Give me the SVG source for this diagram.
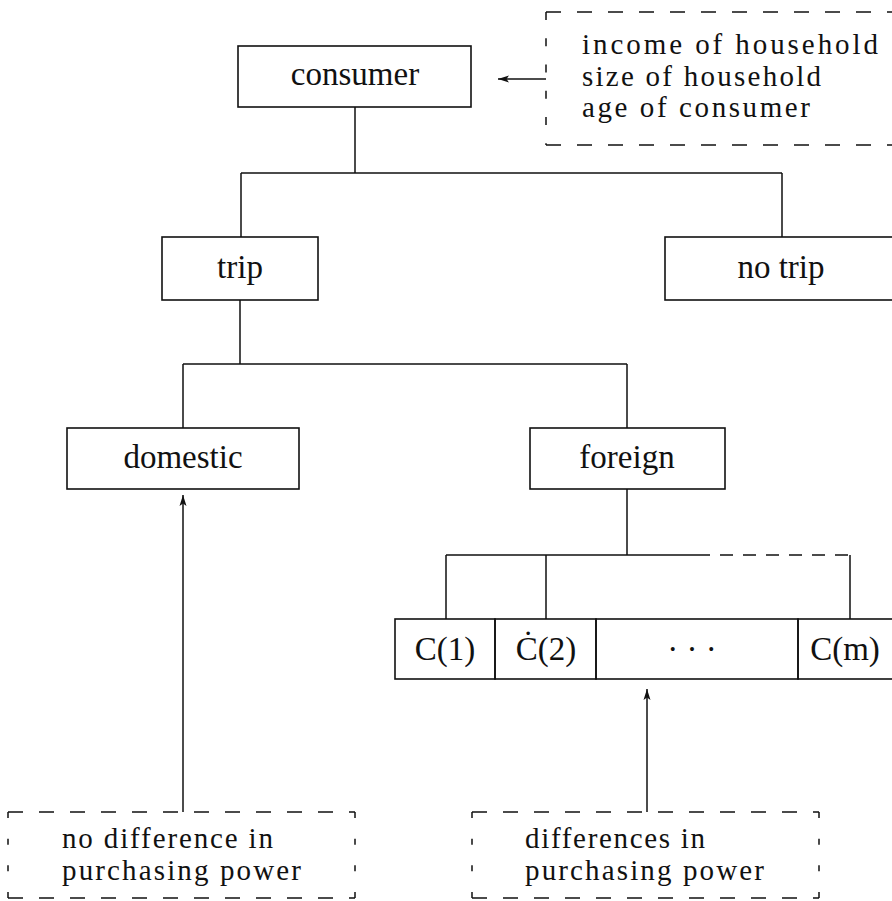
<svg xmlns="http://www.w3.org/2000/svg" width="892" height="901" viewBox="0 0 892 901">
<style>
.box{fill:none;stroke:#111;stroke-width:1.6}
.ln{fill:none;stroke:#111;stroke-width:1.5}
.dh{fill:none;stroke:#111;stroke-width:1.5;stroke-dasharray:15 16}
.dv{fill:none;stroke:#111;stroke-width:1.5}
.t{font-family:"Liberation Serif","DejaVu Serif",serif;font-size:33px;fill:#111}
.m{font-family:"Liberation Serif","DejaVu Serif",serif;font-size:29px;fill:#111}
.c{text-anchor:middle}
</style>
<defs>
<marker id="ah" markerWidth="12" markerHeight="8" refX="11" refY="4" orient="auto" markerUnits="userSpaceOnUse">
<path d="M0,0.5 L11,4 L0,7.5 L2.5,4 z" fill="#111"/>
</marker>
</defs>
<rect width="892" height="901" fill="#fff"/>

<g id="connectors">
<path class="ln" d="M355,107 V173 M241,173 H782 M241,173 V237 M782,173 V237"/>
<path class="ln" d="M240,300 V364 M183,364 H627 M183,364 V428 M627,364 V428"/>
<path class="ln" d="M627,489 V555 M446,555 H697 M446,555 V619 M546,555 V619 M850,555 V619"/>
<path class="ln" d="M697,555 H850" stroke-dasharray="13 10"/>
<path class="ln" d="M546,79 H498" marker-end="url(#ah)"/>
<path class="ln" d="M183,812 V495" marker-end="url(#ah)"/>
<path class="ln" d="M647,812 V689" marker-end="url(#ah)"/>
</g>

<g id="attributes">
<path class="dh" d="M546,12 H900 M546,145 H900"/>
<path class="dv" d="M546,12 V145" stroke-dasharray="8 18.25"/>
<text class="m" x="582" y="54" textLength="296" lengthAdjust="spacing">income of household</text>
<text class="m" x="582" y="86" textLength="239" lengthAdjust="spacing">size of household</text>
<text class="m" x="582" y="117" textLength="228" lengthAdjust="spacing">age of consumer</text>
</g>

<g id="consumer">
<rect class="box" x="238" y="46" width="233" height="61"/>
<text class="t c" x="355" y="85">consumer</text>
</g>

<g id="trip">
<rect class="box" x="162" y="237" width="156" height="63"/>
<text class="t c" x="240" y="278">trip</text>
</g>

<g id="no-trip">
<rect class="box" x="665" y="237" width="240" height="63"/>
<text class="t c" x="781" y="278">no trip</text>
</g>

<g id="domestic">
<rect class="box" x="67" y="428" width="232" height="61"/>
<text class="t c" x="183" y="468">domestic</text>
</g>

<g id="foreign">
<rect class="box" x="530" y="428" width="195" height="61"/>
<text class="t c" x="627" y="468">foreign</text>
</g>

<g id="c1">
<rect class="box" x="395" y="619" width="100" height="60"/>
<text class="t c" x="445" y="660">C(1)</text>
</g>
<g id="c2">
<rect class="box" x="495" y="619" width="101" height="60"/>
<text class="t c" x="546" y="660">Ċ(2)</text>
</g>
<g id="cdots">
<rect class="box" x="596" y="619" width="202" height="60"/>
<text class="t c" x="692" y="660">· · ·</text>
</g>
<g id="cm">
<rect class="box" x="798" y="619" width="104" height="60"/>
<text class="t c" x="845" y="660">C(m)</text>
</g>

<g id="no-difference">
<path class="dh" d="M8,812 H355 M8,898 H355"/>
<path class="dv" d="M8,812 V898 M355,812 V898" stroke-dasharray="6 20.67"/>
<text class="m" x="62" y="848" textLength="211" lengthAdjust="spacing">no difference in</text>
<text class="m" x="62" y="880" textLength="239" lengthAdjust="spacing">purchasing power</text>
</g>

<g id="differences">
<path class="dh" d="M472,812 H819 M472,898 H819"/>
<path class="dv" d="M472,812 V898 M819,812 V898" stroke-dasharray="6 20.67"/>
<text class="m" x="525" y="848" textLength="180" lengthAdjust="spacing">differences in</text>
<text class="m" x="525" y="880" textLength="239" lengthAdjust="spacing">purchasing power</text>
</g>
</svg>
